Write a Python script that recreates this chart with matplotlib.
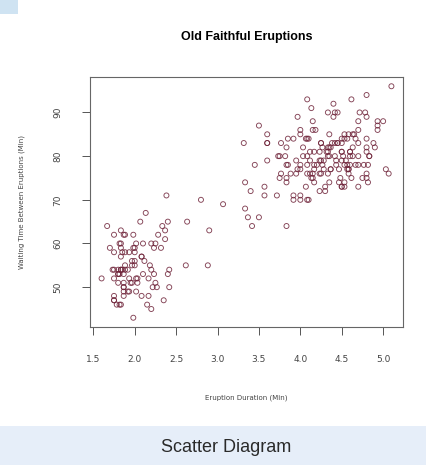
import matplotlib
matplotlib.use('Agg')
import matplotlib.pyplot as plt
from matplotlib.patches import Rectangle

# Old Faithful: eruption duration (min) and waiting time to next eruption (min)
eruptions = [
    3.600, 1.800, 3.333, 2.283, 4.533, 2.883, 4.700, 3.600, 1.950, 4.350,
    1.833, 3.917, 4.200, 1.750, 4.700, 2.167, 1.750, 4.800, 1.600, 4.250,
    1.800, 1.750, 3.450, 3.067, 4.533, 3.600, 1.967, 4.083, 3.850, 4.433,
    4.300, 4.467, 3.367, 4.033, 3.833, 2.017, 1.867, 4.833, 1.833, 4.783,
    4.350, 1.883, 4.567, 1.750, 4.533, 3.317, 3.833, 2.100, 4.633, 2.000,
    4.800, 4.716, 1.833, 4.833, 1.733, 4.883, 3.717, 1.667, 4.567, 4.317,
    2.233, 4.500, 1.750, 4.800, 1.817, 4.400, 4.167, 4.700, 2.067, 4.700,
    4.033, 1.967, 4.500, 4.000, 1.983, 5.067, 2.017, 4.567, 3.883, 3.600,
    4.133, 4.333, 4.100, 2.633, 4.067, 4.933, 3.950, 4.517, 2.167, 4.000,
    2.200, 4.333, 1.867, 4.817, 1.833, 4.300, 4.667, 3.750, 1.867, 4.900,
    1.700, 4.633, 2.317, 4.600, 1.817, 4.417, 2.617, 4.067, 4.250, 1.967,
    4.600, 3.767, 1.917, 4.500, 2.267, 4.650, 1.867, 4.167, 2.800, 4.333,
    1.833, 4.383, 1.883, 4.933, 2.033, 3.733, 4.233, 2.233, 4.533, 4.817,
    4.333, 1.983, 4.633, 2.017, 5.100, 1.800, 5.033, 4.000, 2.400, 4.600,
    3.567, 4.000, 4.500, 4.083, 1.800, 3.967, 2.200, 4.150, 2.000, 3.833,
    3.500, 4.583, 2.367, 5.000, 1.933, 4.617, 1.917, 2.083, 4.583, 3.333,
    4.167, 4.333, 4.500, 2.417, 4.000, 4.167, 1.883, 4.583, 4.250, 3.767,
    2.033, 4.433, 4.083, 1.833, 4.417, 2.183, 4.800, 1.833, 4.800, 4.100,
    3.966, 4.233, 3.500, 4.366, 2.250, 4.667, 2.100, 4.350, 4.133, 1.867,
    4.600, 1.783, 4.367, 3.850, 1.933, 4.500, 2.383, 4.700, 1.867, 3.833,
    3.417, 4.233, 2.400, 4.800, 2.000, 4.150, 1.867, 4.267, 1.750, 4.483,
    4.000, 4.117, 4.083, 4.267, 3.917, 4.550, 4.083, 2.417, 4.183, 2.217,
    4.450, 1.883, 1.850, 4.283, 3.950, 2.333, 4.150, 2.350, 4.933, 2.900,
    4.583, 3.833, 2.083, 4.367, 2.133, 4.350, 2.200, 4.450, 3.567, 4.500,
    4.150, 3.817, 3.917, 4.450, 2.000, 4.283, 4.767, 4.533, 1.850, 4.250,
    1.983, 2.250, 4.750, 4.117, 2.150, 4.417, 1.817, 4.467, 4.083, 2.117,
    4.700, 1.750, 4.400, 3.400, 4.233, 2.367, 4.617, 1.933, 4.117, 3.750,
    2.083, 4.800,
]
waiting = [
    79, 54, 74, 62, 85, 55, 88, 85, 51, 85,
    54, 84, 78, 47, 83, 52, 62, 84, 52, 79,
    51, 47, 78, 69, 74, 83, 55, 76, 78, 79,
    73, 77, 66, 80, 74, 52, 48, 80, 59, 90,
    80, 58, 84, 58, 73, 83, 64, 53, 82, 59,
    75, 90, 54, 80, 54, 83, 71, 64, 77, 81,
    59, 84, 48, 82, 60, 92, 78, 78, 65, 73,
    82, 56, 79, 71, 62, 76, 60, 78, 76, 83,
    75, 82, 70, 65, 73, 88, 76, 80, 48, 86,
    60, 90, 50, 78, 63, 72, 84, 75, 51, 82,
    59, 85, 59, 81, 53, 80, 55, 84, 76, 51,
    80, 76, 54, 81, 50, 85, 62, 77, 70, 80,
    60, 83, 62, 87, 52, 80, 72, 53, 78, 74,
    76, 59, 80, 49, 96, 53, 77, 77, 65, 81,
    71, 70, 81, 93, 53, 89, 45, 86, 58, 78,
    66, 76, 63, 88, 52, 93, 49, 57, 77, 68,
    81, 81, 73, 50, 85, 74, 55, 77, 83, 83,
    51, 78, 84, 46, 83, 55, 81, 57, 76, 84,
    77, 81, 87, 77, 51, 78, 60, 82, 91, 53,
    78, 46, 77, 84, 49, 83, 71, 80, 49, 75,
    64, 76, 53, 94, 55, 76, 50, 82, 54, 75,
    78, 79, 78, 78, 70, 79, 70, 54, 86, 50,
    90, 54, 54, 77, 79, 64, 75, 47, 86, 63,
    85, 82, 57, 82, 67, 74, 54, 83, 73, 73,
    88, 80, 71, 83, 56, 79, 78, 84, 58, 83,
    43, 60, 75, 81, 46, 90, 46, 74, 80, 56,
    86, 52, 89, 72, 79, 61, 75, 58, 76, 80,
    48, 89,
]
x_ticks = [1.5, 2.0, 2.5, 3.0, 3.5, 4.0, 4.5, 5.0]
y_ticks = [50, 60, 70, 80, 90]

fig = plt.figure(figsize=(4.26, 4.65), dpi=100)
fig.patch.set_facecolor('white')

# light blue caption band at the bottom and the small blob top-left
fig.patches.append(Rectangle((0, 0), 1, 39 / 465, transform=fig.transFigure,
                             facecolor='#e6eef9', edgecolor='none', zorder=0))
fig.patches.append(Rectangle((0, 1 - 14 / 465), 18 / 426, 14 / 465, transform=fig.transFigure,
                             facecolor='#cfe3f2', edgecolor='none', zorder=0))
fig.text(0.53, 18 / 465, 'Scatter Diagram', ha='center', va='center',
         fontsize=13, color='#2a2a2a', family='Liberation Sans')

ax = fig.add_axes([90 / 426, 138 / 465, 313 / 426, 250 / 465])
ax.scatter(eruptions, waiting, s=13, facecolors='none', edgecolors='#6e2238',
           linewidths=0.65, alpha=0.85)

# R style 4% padding
xr = max(eruptions) - min(eruptions)
yr = max(waiting) - min(waiting)
ax.set_xlim(min(eruptions) - 0.04 * xr, max(eruptions) + 0.04 * xr)
ax.set_ylim(min(waiting) - 0.04 * yr, max(waiting) + 0.04 * yr)

ax.set_xticks(x_ticks)
ax.set_xticklabels(['%.1f' % t for t in x_ticks])
ax.set_yticks(y_ticks)
ax.set_yticklabels([str(t) for t in y_ticks], rotation=90, va='center')
ax.tick_params(direction='out', length=6, width=0.7, colors='#555555',
               labelsize=6.5, pad=14, labelcolor='#444444')
for sp in ax.spines.values():
    sp.set_color('#666666')
    sp.set_linewidth(0.8)

ax.set_title('Old Faithful Eruptions', fontsize=9, fontweight='bold',
             family='Liberation Sans', pad=27)
ax.set_xlabel('Eruption Duration (Min)', fontsize=5, color='#444444', labelpad=22)
ax.set_ylabel('Waiting Time Between Eruptions (Min)', fontsize=5,
              color='#444444', labelpad=20)

plt.savefig('out.png', dpi=100)
